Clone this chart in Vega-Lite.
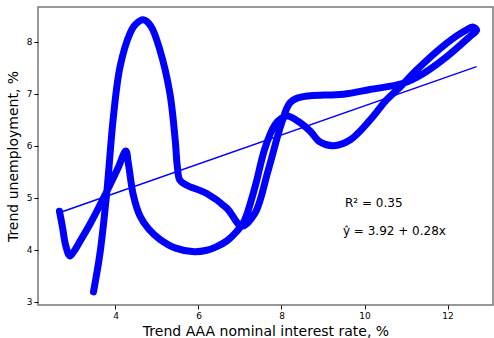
{
  "$schema": "https://vega.github.io/schema/vega-lite/v6.json",
  "width": 455,
  "height": 298,
  "autosize": "none",
  "padding": {"left": 38, "top": 7, "right": 1, "bottom": 33},
  "config": {
    "view": {"stroke": "#777777", "strokeWidth": 1.5},
    "font": "DejaVu Sans",
    "axis": {
      "grid": false,
      "domain": false,
      "tickColor": "#000000",
      "tickSize": 4,
      "labelFont": "DejaVu Sans",
      "labelFontSize": 9,
      "labelColor": "#000000",
      "labelPadding": 2,
      "titleFont": "DejaVu Sans",
      "titleFontSize": 14,
      "titleFontWeight": "normal",
      "titleColor": "#000000"
    }
  },
  "datasets": {
    "path": [
      {"i": 1, "rate": 2.65, "unemp": 4.74},
      {"i": 2, "rate": 2.72, "unemp": 4.45},
      {"i": 3, "rate": 2.80, "unemp": 4.08},
      {"i": 4, "rate": 2.90, "unemp": 3.88},
      {"i": 5, "rate": 3.00, "unemp": 3.97},
      {"i": 6, "rate": 3.15, "unemp": 4.17},
      {"i": 7, "rate": 3.39, "unemp": 4.50},
      {"i": 8, "rate": 3.79, "unemp": 5.12},
      {"i": 9, "rate": 4.05, "unemp": 5.55},
      {"i": 10, "rate": 4.25, "unemp": 5.90},
      {"i": 11, "rate": 4.31, "unemp": 5.66},
      {"i": 12, "rate": 4.43, "unemp": 5.05},
      {"i": 13, "rate": 4.59, "unemp": 4.65},
      {"i": 14, "rate": 4.80, "unemp": 4.40},
      {"i": 15, "rate": 5.07, "unemp": 4.20},
      {"i": 16, "rate": 5.45, "unemp": 4.03},
      {"i": 17, "rate": 5.90, "unemp": 3.96},
      {"i": 18, "rate": 6.20, "unemp": 3.99},
      {"i": 19, "rate": 6.44, "unemp": 4.06},
      {"i": 20, "rate": 6.70, "unemp": 4.18},
      {"i": 21, "rate": 6.92, "unemp": 4.35},
      {"i": 22, "rate": 7.10, "unemp": 4.55},
      {"i": 23, "rate": 7.36, "unemp": 5.20},
      {"i": 24, "rate": 7.60, "unemp": 5.95},
      {"i": 25, "rate": 7.84, "unemp": 6.40},
      {"i": 26, "rate": 8.00, "unemp": 6.53},
      {"i": 27, "rate": 8.15, "unemp": 6.57},
      {"i": 28, "rate": 8.40, "unemp": 6.47},
      {"i": 29, "rate": 8.69, "unemp": 6.28},
      {"i": 30, "rate": 8.93, "unemp": 6.07},
      {"i": 31, "rate": 9.25, "unemp": 6.00},
      {"i": 32, "rate": 9.65, "unemp": 6.11},
      {"i": 33, "rate": 10.13, "unemp": 6.49},
      {"i": 34, "rate": 10.53, "unemp": 6.88},
      {"i": 35, "rate": 10.86, "unemp": 7.13},
      {"i": 36, "rate": 11.26, "unemp": 7.46},
      {"i": 37, "rate": 11.98, "unemp": 7.97},
      {"i": 38, "rate": 12.40, "unemp": 8.20},
      {"i": 39, "rate": 12.62, "unemp": 8.28},
      {"i": 40, "rate": 12.70, "unemp": 8.22},
      {"i": 41, "rate": 12.54, "unemp": 8.10},
      {"i": 42, "rate": 11.98, "unemp": 7.71},
      {"i": 43, "rate": 11.42, "unemp": 7.39},
      {"i": 44, "rate": 10.93, "unemp": 7.20},
      {"i": 45, "rate": 10.13, "unemp": 7.08},
      {"i": 46, "rate": 9.49, "unemp": 6.99},
      {"i": 47, "rate": 8.69, "unemp": 6.96},
      {"i": 48, "rate": 8.40, "unemp": 6.92},
      {"i": 49, "rate": 8.20, "unemp": 6.82},
      {"i": 50, "rate": 8.00, "unemp": 6.43},
      {"i": 51, "rate": 7.68, "unemp": 5.53},
      {"i": 52, "rate": 7.36, "unemp": 4.70},
      {"i": 53, "rate": 7.05, "unemp": 4.45},
      {"i": 54, "rate": 6.68, "unemp": 4.80},
      {"i": 55, "rate": 6.20, "unemp": 5.08},
      {"i": 56, "rate": 5.72, "unemp": 5.24},
      {"i": 57, "rate": 5.55, "unemp": 5.34},
      {"i": 58, "rate": 5.49, "unemp": 5.60},
      {"i": 59, "rate": 5.44, "unemp": 6.10},
      {"i": 60, "rate": 5.31, "unemp": 7.01},
      {"i": 61, "rate": 5.07, "unemp": 7.84},
      {"i": 62, "rate": 4.85, "unemp": 8.30},
      {"i": 63, "rate": 4.67, "unemp": 8.42},
      {"i": 64, "rate": 4.48, "unemp": 8.33},
      {"i": 65, "rate": 4.35, "unemp": 8.16},
      {"i": 66, "rate": 4.11, "unemp": 7.52},
      {"i": 67, "rate": 3.95, "unemp": 6.56},
      {"i": 68, "rate": 3.79, "unemp": 5.10},
      {"i": 69, "rate": 3.63, "unemp": 3.95},
      {"i": 70, "rate": 3.47, "unemp": 3.19}
    ],
    "fit": [
      {"rate": 2.68, "unemp": 4.72},
      {"rate": 12.70, "unemp": 7.52}
    ],
    "notes": [
      {"rate": 9.53, "unemp": 4.90, "label": "R² = 0.35"},
      {"rate": 9.48, "unemp": 4.36, "label": "ŷ = 3.92 + 0.28x"}
    ]
  },
  "layer": [
    {
      "data": {"name": "path"},
      "mark": {"type": "line", "color": "#0000ff", "strokeWidth": 7, "strokeCap": "round", "strokeJoin": "round", "interpolate": "catmull-rom"},
      "encoding": {
        "x": {"field": "rate", "type": "quantitative", "scale": {"domain": [2.133, 13.096], "nice": false, "zero": false}, "axis": {"values": [4, 6, 8, 10, 12], "title": "Trend AAA nominal interest rate, %", "titlePadding": 4}},
        "y": {"field": "unemp", "type": "quantitative", "scale": {"domain": [2.937, 8.667], "nice": false, "zero": false}, "axis": {"values": [3, 4, 5, 6, 7, 8], "title": "Trend unemployment, %", "titlePadding": 6}},
        "order": {"field": "i", "type": "quantitative"}
      }
    },
    {
      "data": {"name": "fit"},
      "mark": {"type": "line", "color": "#0000ff", "strokeWidth": 1.5},
      "encoding": {
        "x": {"field": "rate", "type": "quantitative"},
        "y": {"field": "unemp", "type": "quantitative"}
      }
    },
    {
      "data": {"name": "notes"},
      "mark": {"type": "text", "align": "left", "baseline": "middle", "fontSize": 12, "font": "DejaVu Sans", "color": "#000000"},
      "encoding": {
        "x": {"field": "rate", "type": "quantitative"},
        "y": {"field": "unemp", "type": "quantitative"},
        "text": {"field": "label"}
      }
    }
  ]
}
